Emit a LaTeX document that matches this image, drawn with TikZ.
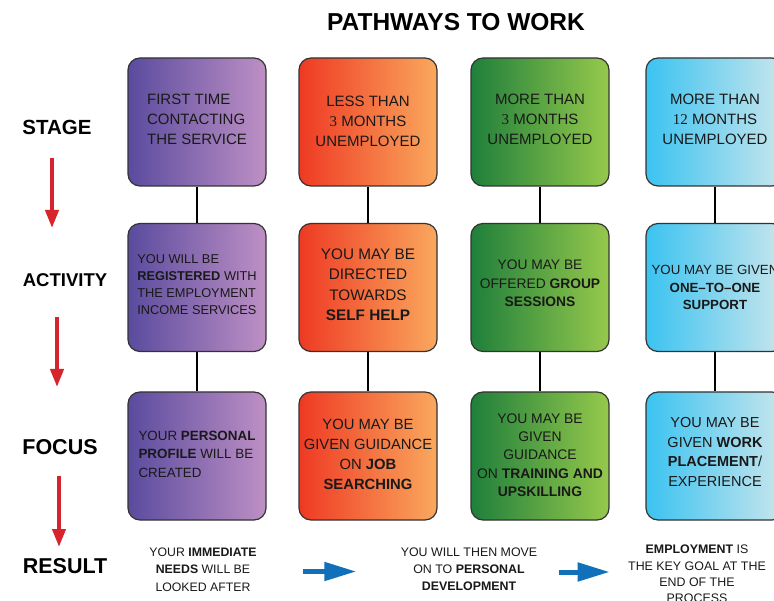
\documentclass[tikz,border=0pt]{standalone}
\usepackage{xcolor}
\usepackage{fontspec}
\setmainfont{Liberation Sans}
\newfontfamily\numfont{Liberation Serif}
\usepackage{tikz}
\usetikzlibrary{arrows.meta,positioning}

\definecolor{purpleL}{HTML}{5A4B9E}
\definecolor{purpleM}{HTML}{B08AC2}
\definecolor{purpleR}{HTML}{BE90C5}
\definecolor{orangeL}{HTML}{EE3A23}
\definecolor{orangeM}{HTML}{F47236}
\definecolor{orangeR}{HTML}{FAA85E}
\definecolor{greenL}{HTML}{1F7F3B}
\definecolor{greenM}{HTML}{5AA042}
\definecolor{greenR}{HTML}{96C94C}
\definecolor{cyanL}{HTML}{3BC3F1}
\definecolor{cyanM}{HTML}{8AD4EE}
\definecolor{cyanR}{HTML}{C9E6EC}
\definecolor{arrowred}{HTML}{D7232C}
\definecolor{arrowblue}{HTML}{1070BA}

\newcommand\liftamount{6pt}

\tikzset{
  textlift/.store in=\liftamount,
  box/.style={draw=black!80, line width=1.2pt, rounded corners=12pt,
    minimum width=138pt, minimum height=128pt, inner sep=2pt,
    align=center, text=black!90, textlift=6pt,
    execute at end node={\rule[-\liftamount]{0pt}{\liftamount}}},
  purplebox/.style={box, left color=purpleL, middle color=purpleM, right color=purpleR},
  orangebox/.style={box, left color=orangeL, middle color=orangeM, right color=orangeR},
  greenbox/.style={box, left color=greenL, middle color=greenM, right color=greenR},
  cyanbox/.style={box, left color=cyanL, middle color=cyanM, right color=cyanR},
  link/.style={line width=2.8pt, black},
  rowname/.style={font=\bfseries\fontsize{21.5}{24}\selectfont},
  downarrow/.style={arrowred, line width=4pt, -{Triangle[length=18pt,width=13pt]}},
  nextarrow/.style={arrowblue, line width=5pt, -{Triangle[length=32pt,width=18pt]}},
  resulttext/.style={align=center, text=black!90}
}

\begin{document}
\begin{tikzpicture}[x=1pt,y=-1pt]
  \useasboundingbox (0,0) rectangle (774,601);
  \fill[white] (0,0) rectangle (774,601);
  \clip (0,0) rectangle (774,601);

  % title
  \node[font=\bfseries\fontsize{24.5}{29}\selectfont] (title) at (456,22) {PATHWAYS TO WORK};

  % row names
  \node[rowname, font=\bfseries\fontsize{20.5}{24}\selectfont] (lstage) at (57,127) {STAGE};
  \node[rowname, font=\bfseries\fontsize{18.5}{22}\selectfont] (lactivity) at (65,280) {ACTIVITY};
  \node[rowname] (lfocus) at (60,447) {FOCUS};
  \node[rowname] (lresult) at (65,566) {RESULT};

  \coordinate (d1a) at (52,158);  \coordinate (d1b) at (52,228);
  \coordinate (d2a) at (57,317);  \coordinate (d2b) at (57,387);
  \coordinate (d3a) at (59,476);  \coordinate (d3b) at (59,547);
  \draw[downarrow] (d1a) -- (d1b);
  \draw[downarrow] (d2a) -- (d2b);
  \draw[downarrow] (d3a) -- (d3b);

  % stage row
  \node[purplebox, align=left, font=\fontsize{15}{20}\selectfont] (s1) at (197,122)
    {FIRST TIME\\CONTACTING\\THE SERVICE};
  \node[orangebox, font=\fontsize{15}{20}\selectfont, textlift=2pt] (s2) at (368,122)
    {LESS THAN\\{\numfont 3} MONTHS\\UNEMPLOYED};
  \node[greenbox, font=\fontsize{15}{20}\selectfont] (s3) at (540,122)
    {MORE THAN\\{\numfont 3} MONTHS\\UNEMPLOYED};
  \node[cyanbox, font=\fontsize{15}{20}\selectfont] (s4) at (715,122)
    {MORE THAN\\{\numfont 12} MONTHS\\UNEMPLOYED};

  % activity row
  \node[purplebox, align=left, font=\fontsize{12.8}{17}\selectfont] (a1) at (197,287.5)
    {YOU WILL BE\\\textbf{REGISTERED} WITH\\THE EMPLOYMENT\\INCOME SERVICES};
  \node[orangebox, font=\fontsize{15.3}{20.5}\selectfont] (a2) at (368,287.5)
    {YOU MAY BE\\DIRECTED\\TOWARDS\\\textbf{SELF HELP}};
  \node[greenbox, font=\fontsize{13.8}{18.5}\selectfont, textlift=8pt] (a3) at (540,287.5)
    {YOU MAY BE\\OFFERED \textbf{GROUP}\\\textbf{SESSIONS}};
  \node[cyanbox, font=\fontsize{13.3}{17.5}\selectfont, textlift=0pt] (a4) at (715,287.5)
    {YOU MAY BE GIVEN\\\textbf{ONE–TO–ONE}\\\textbf{SUPPORT}};

  % focus row
  \node[purplebox, align=left, font=\fontsize{13.4}{18.5}\selectfont, textlift=4pt] (f1) at (197,456)
    {YOUR \textbf{PERSONAL}\\\textbf{PROFILE} WILL BE\\CREATED};
  \node[orangebox, font=\fontsize{14.8}{20}\selectfont, textlift=4pt] (f2) at (368,456)
    {YOU MAY BE\\GIVEN GUIDANCE\\ON \textbf{JOB}\\\textbf{SEARCHING}};
  \node[greenbox, font=\fontsize{13.9}{18.3}\selectfont, textlift=2pt] (f3) at (540,456)
    {YOU MAY BE\\GIVEN\\GUIDANCE\\ON \textbf{TRAINING AND}\\\textbf{UPSKILLING}};
  \node[cyanbox, font=\fontsize{14.5}{19.7}\selectfont, textlift=8pt] (f4) at (715,456)
    {YOU MAY BE\\GIVEN \textbf{WORK}\\\textbf{PLACEMENT}/\\EXPERIENCE};

  % links between rows
  \foreach \c in {1,2,3,4}{
    \draw[link] (s\c) -- (a\c);
    \draw[link] (a\c) -- (f\c);
  }

  % result row
  \node[resulttext, font=\fontsize{12.3}{17.5}\selectfont] (r1) at (203,569.5)
    {YOUR \textbf{IMMEDIATE}\\\textbf{NEEDS} WILL BE\\LOOKED AFTER};
  \node[resulttext, font=\fontsize{12.4}{17}\selectfont] (r2) at (469,569)
    {YOU WILL THEN MOVE\\ON TO \textbf{PERSONAL}\\\textbf{DEVELOPMENT}};
  \node[resulttext, font=\fontsize{12.4}{16.3}\selectfont] (r3) at (697,574)
    {\textbf{EMPLOYMENT} IS\\THE KEY GOAL AT THE\\END OF THE\\PROCESS};

  \draw[nextarrow, shorten <=43pt, shorten >=41pt] ([yshift=-2pt]r1.east) -- ([yshift=-2pt]r1.east -| r2.west);
  \draw[nextarrow, shorten <=18pt, shorten >=15pt] ([yshift=-3pt]r2.east) -- ([yshift=-3pt]r2.east -| r3.west);
\end{tikzpicture}
\end{document}
